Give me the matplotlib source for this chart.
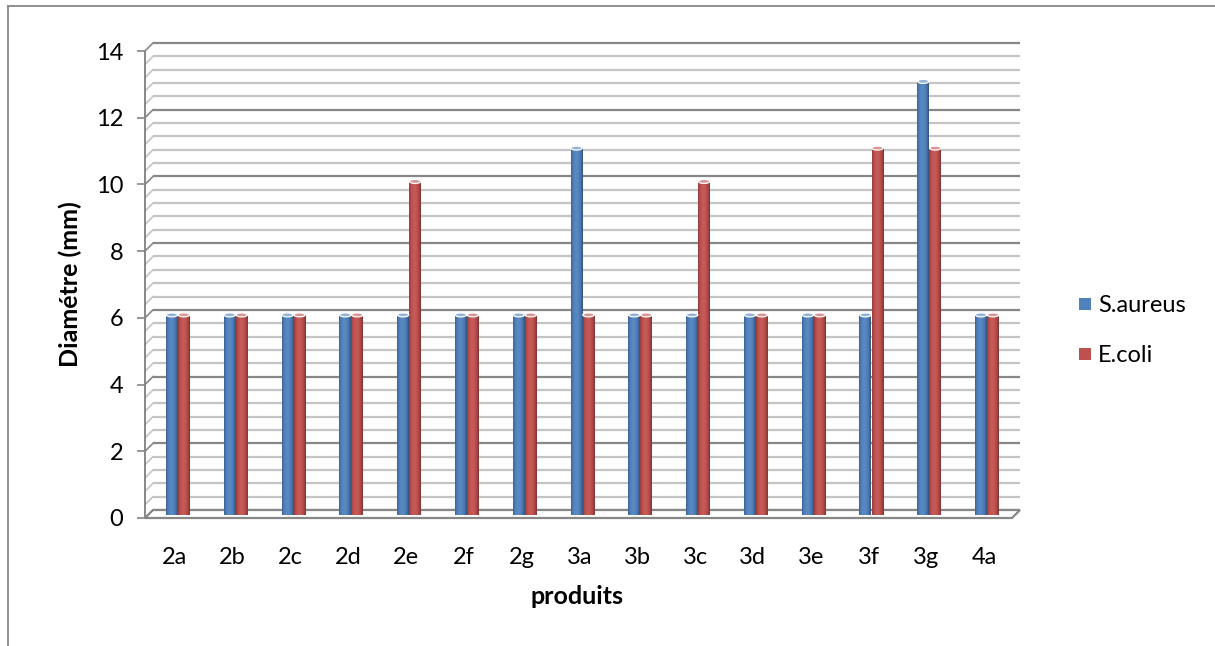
import numpy as np
import matplotlib
matplotlib.use("Agg")
import matplotlib.pyplot as plt
from matplotlib.patches import Ellipse, Polygon, Rectangle
from matplotlib.lines import Line2D
from matplotlib.colors import to_rgb
import matplotlib.transforms as mtransforms

# --- data -------------------------------------------------------------
produits = ['2a', '2b', '2c', '2d', '2e', '2f', '2g', '3a', '3b', '3c',
            '3d', '3e', '3f', '3g', '4a']
s_aureus = [6, 6, 6, 6, 6, 6, 6, 11, 6, 6, 6, 6, 6, 13, 6]
e_coli = [6, 6, 6, 6, 10, 6, 6, 6, 6, 10, 6, 6, 11, 11, 6]
y_ticks = [0, 2, 4, 6, 8, 10, 12, 14]
series_names = ['S.aureus', 'E.coli']
series_colors = ['#4F81BD', '#C0504D']

plt.rcParams['font.family'] = ['Lato', 'DejaVu Sans']
FS = 18
FS_TICK = 17
GRID_MAJOR = '#878787'
GRID_MINOR = '#C4C4C4'

W, H = 1215, 646
fig = plt.figure(figsize=(W / 100, H / 100), dpi=100, facecolor='white')

# front plane of the 3-D plot box (pixel coordinates)
X0, X1 = 145, 1012
Y0, Y1 = 518, 51
ax = fig.add_axes([X0 / W, 1 - Y0 / H, (X1 - X0) / W, (Y0 - Y1) / H])
n = len(produits)
ymax = y_ticks[-1]
ax.set_xlim(-0.5, n - 0.5)
ax.set_ylim(0, ymax)
for s in ax.spines.values():
    s.set_visible(False)
ax.patch.set_alpha(0)

px_x = n / (X1 - X0)          # data units per pixel
px_y = ymax / (Y0 - Y1)
depth = 8                     # depth of the box in pixels
dx, dy = depth * px_x, depth * px_y

# back wall gridlines and side-wall diagonals
minor = 0.4
for k in range(int(round(ymax / minor)) + 1):
    v = k * minor
    major = (k % 5 == 0)
    col = GRID_MAJOR if major else GRID_MINOR
    ax.plot([-0.5 + dx, n - 0.5 + dx], [v + dy, v + dy], color=col, lw=1.6,
            solid_capstyle='butt', zorder=1, clip_on=False)
    ax.plot([-0.5, -0.5 + dx], [v, v + dy], color=col, lw=1.2,
            zorder=1, clip_on=False)

# floor
floor = Polygon([(-0.5, 0), (n - 0.5, 0), (n - 0.5 + dx, dy), (-0.5 + dx, dy)],
                closed=True, facecolor='white', edgecolor=GRID_MAJOR, lw=1.6,
                zorder=1.5, clip_on=False)
ax.add_patch(floor)

# front vertical axis
ax.plot([-0.5, -0.5], [0, ymax], color=GRID_MAJOR, lw=1.4, zorder=1.6,
        clip_on=False)

ax.set_yticks(y_ticks)
ax.set_yticklabels([str(t) for t in y_ticks])
ax.tick_params(axis='y', length=5.5, width=1.2, color=GRID_MAJOR,
               labelsize=FS_TICK, pad=10, direction='out')
ax.set_xticks([])

# category labels
trans_lab = mtransforms.blended_transform_factory(ax.transData, fig.transFigure)
for i, lab in enumerate(produits):
    ax.text(i + 1 * px_x, 1 - 564 / H, lab, transform=trans_lab, ha='center',
            va='baseline', fontsize=FS_TICK, color='black')

# cylinder bars
bw = 12 * px_x
shift = 6 * px_x
bx, by = 4 * px_x, 3 * px_y


def shade(color, t):
    base = np.array(to_rgb(color))
    # brightness profile across a cylinder: dark rims, light band left of centre
    f = 0.70 + 0.42 * np.sin(np.pi * np.clip(t, 0, 1)) ** 0.6 - 0.12 * t
    f = np.clip(f, 0, None)
    out = np.where(f[:, None] <= 1, base[None, :] * f[:, None],
                   base[None, :] + (1 - base[None, :]) * (f[:, None] - 1))
    return np.clip(out, 0, 1)


t = np.linspace(0, 1, 64)
for si, (vals, col) in enumerate(zip([s_aureus, e_coli], series_colors)):
    xs = np.arange(n) + (-shift if si == 0 else shift) + bx
    bars = ax.bar(xs, vals, width=bw, bottom=by, color=col, zorder=3,
                  linewidth=0)
    grad = shade(col, t)[None, :, :]
    for x, v, patch in zip(xs, vals, bars):
        im = ax.imshow(grad, extent=[x - bw / 2, x + bw / 2, by, by + v],
                       aspect='auto', zorder=3.1, interpolation='bilinear')
        im.set_clip_path(patch)
        top_col = np.array(to_rgb(col)) * 0.6 + 0.4
        ax.add_patch(Ellipse((x, by + v), bw * 0.95, 4 * px_y,
                             facecolor=top_col, edgecolor='white', lw=0.9,
                             zorder=4))

ax.set_xlim(-0.5, n - 0.5)
ax.set_ylim(0, ymax)

# axis titles
fig.text(70 / W, 1 - 284 / H, 'Diamétre (mm)', rotation=90, ha='center',
         va='center', fontsize=FS, fontweight='bold')
fig.text(577 / W, 1 - 597 / H, 'produits', ha='center', va='center',
         fontsize=FS, fontweight='bold')

# legend
for name, col, yc in zip(series_names, series_colors, [304, 354]):
    fig.add_artist(Rectangle((1079 / W, 1 - (yc + 6) / H), 12 / W, 12 / H,
                             transform=fig.transFigure, facecolor=col,
                             edgecolor='none'))
    fig.text(1098 / W, 1 - yc / H, name, ha='left', va='center_baseline',
             fontsize=FS_TICK)

# chart area border
fig.add_artist(Line2D([8 / W, 8 / W], [0, 1 - 6 / H], color=GRID_MAJOR,
                      lw=1.3, transform=fig.transFigure))
fig.add_artist(Line2D([8 / W, 1], [1 - 6 / H, 1 - 6 / H], color=GRID_MAJOR,
                      lw=1.3, transform=fig.transFigure))

fig.savefig('out.png', dpi=100, facecolor='white')
